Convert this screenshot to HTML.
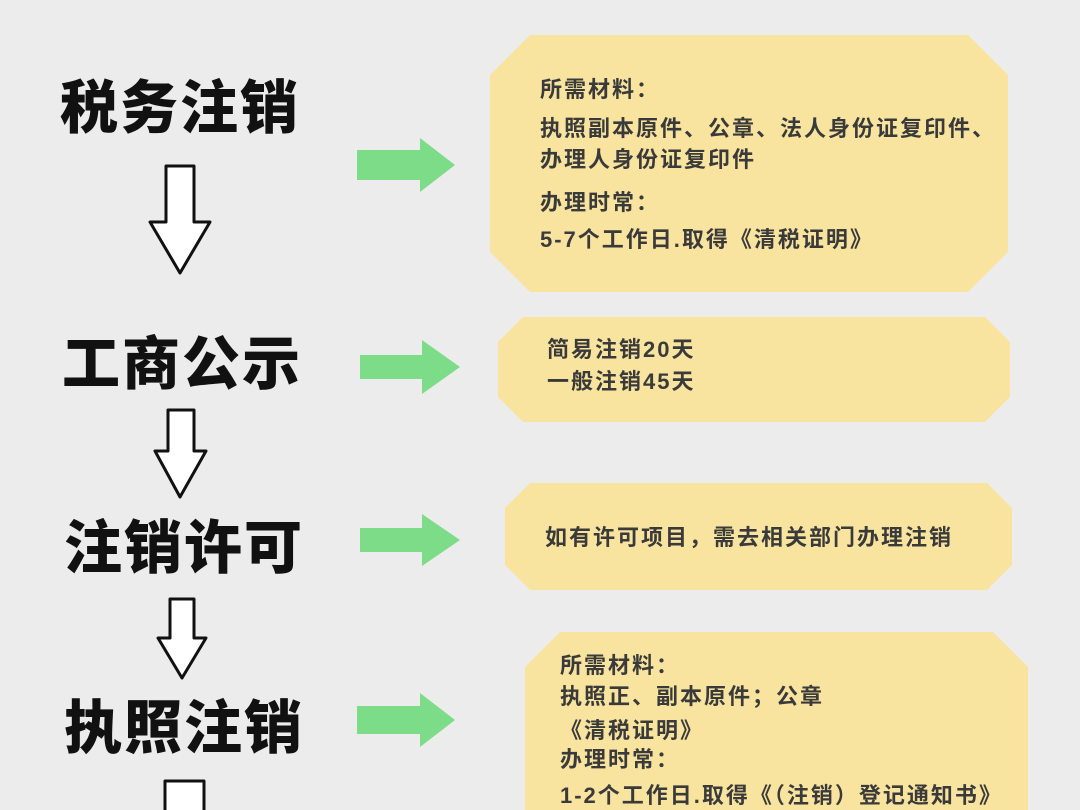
<!DOCTYPE html>
<html><head><meta charset="utf-8"><style>
body{margin:0;width:1080px;height:810px;background:#ececec;overflow:hidden;position:relative;font-family:"Liberation Sans","Noto Sans CJK SC",sans-serif}
.t{position:absolute;font-weight:900;font-size:58px;color:#111;letter-spacing:2px;line-height:1}
.s{position:absolute;font-weight:700;font-size:22px;letter-spacing:2px;color:#3a3a3a;line-height:1;white-space:nowrap}
svg{position:absolute;left:0;top:0}
</style></head><body>
<svg width="1080" height="810">
<g fill="#f8e49e">
<polygon points="530,35 968,35 1008,75 1008,252 968,292 530,292 490,252 490,75"/>
<polygon points="523,317 985,317 1010,342 1010,397 985,422 523,422 498,397 498,342"/>
<polygon points="530,483 987,483 1012,508 1012,565 987,590 530,590 505,565 505,508"/>
<polygon points="560,632 993,632 1028,667 1028,810 525,810 525,667"/>
</g>
<g fill="#7ddc87">
<polygon points="357,150 420,150 420,138 455,165 420,192 420,180 357,180"/>
<polygon points="360,355 422,355 422,340 460,367 422,394 422,379 360,379"/>
<polygon points="360,528 422,528 422,514 460,540 422,566 422,552 360,552"/>
<polygon points="357,706 420,706 420,693 455,720 420,747 420,734 357,734"/>
</g>
<g fill="#fff" stroke="#111" stroke-width="3" stroke-linejoin="round">
<polygon points="166,166 194,166 194,222 210,222 180,273 150,222 166,222"/>
<polygon points="168,410 194,410 194,451 206,451 180,497 155,451 168,451"/>
<polygon points="170,599 194,599 194,638 206,638 182,678 158,638 170,638"/>
<polygon points="165,781 204,781 204,815 165,815"/>
</g>
</svg>
<div class="t" style="left:60px;top:80px">税务注销</div>
<div class="t" style="left:62px;top:336px">工商公示</div>
<div class="t" style="left:64px;top:520px">注销许可</div>
<div class="t" style="left:64px;top:700px">执照注销</div>

<div class="s" style="left:540px;top:79px">所需材料：</div>
<div class="s" style="left:540px;top:118px">执照副本原件、公章、法人身份证复印件、</div>
<div class="s" style="left:540px;top:149px">办理人身份证复印件</div>
<div class="s" style="left:540px;top:192px">办理时常：</div>
<div class="s" style="left:540px;top:229px">5-7个工作日.取得《清税证明》</div>

<div class="s" style="left:547px;top:339px">简易注销20天</div>
<div class="s" style="left:547px;top:371px">一般注销45天</div>

<div class="s" style="left:545px;top:527px">如有许可项目，需去相关部门办理注销</div>

<div class="s" style="left:560px;top:655px">所需材料：</div>
<div class="s" style="left:560px;top:686px">执照正、副本原件；公章</div>
<div class="s" style="left:560px;top:720px">《清税证明》</div>
<div class="s" style="left:560px;top:749px">办理时常：</div>
<div class="s" style="left:560px;top:785px">1-2个工作日.取得《（注销）登记通知书》</div>
</body></html>
